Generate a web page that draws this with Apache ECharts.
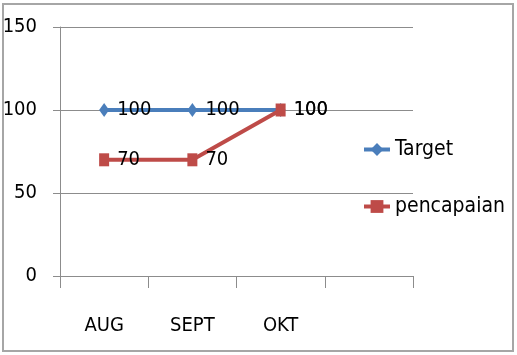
<!DOCTYPE html>
<html>
<head>
<meta charset="utf-8">
<script src="https://cdn.jsdelivr.net/npm/echarts@6/dist/echarts.min.js"></script>
<style>
  html, body { margin: 0; padding: 0; background: #fff; }
  #chart { width: 517px; height: 355px; }
</style>
</head>
<body>
<div id="chart"></div>
<script>
// months on the x axis (4th slot is empty in the original)
const months = ["AUG", "SEPT", "OKT", ""];
const target = [100, 100, 100];
const pencapaian = [70, 70, 100];

const FONT = "'DejaVu Sans Condensed', 'Liberation Sans Narrow', sans-serif";
const AXIS_GRAY = "#8c8c8c";
const FS = 20;

const chart = echarts.init(document.getElementById("chart"));

const option = {
  animation: false,
  textStyle: { fontFamily: FONT },
  graphic: [{
    type: "rect",
    shape: { x: 3, y: 4, width: 510, height: 347 },
    style: { fill: "none", stroke: "#a6a6a6", lineWidth: 2 },
    silent: true
  }],
  grid: { left: 60, right: 104, top: 27, bottom: 79, containLabel: false, outerBoundsMode: "none" },
  legend: {
    orient: "vertical",
    left: 357,
    top: 134,
    itemGap: 36,
    itemWidth: 26,
    itemHeight: 16,
    lineStyle: { width: 4 },
    textStyle: { fontSize: 21, color: "#000", fontFamily: FONT },
    data: ["Target", "pencapaian"]
  },
  xAxis: {
    type: "category",
    data: months,
    boundaryGap: true,
    axisLine: { lineStyle: { color: AXIS_GRAY, width: 1 } },
    axisTick: { show: true, length: 12, interval: 0, lineStyle: { color: AXIS_GRAY } },
    axisLabel: { margin: 40, fontSize: FS, color: "#000", fontFamily: FONT, interval: 0 },
    splitLine: { show: false }
  },
  yAxis: {
    type: "value",
    min: 0,
    max: 150,
    interval: 50,
    axisLine: { show: true, lineStyle: { color: AXIS_GRAY, width: 1 } },
    axisTick: { show: true, length: 7, lineStyle: { color: AXIS_GRAY } },
    axisLabel: { margin: 23, fontSize: FS, color: "#000", fontFamily: FONT },
    splitLine: { show: true, lineStyle: { color: AXIS_GRAY, width: 1 } }
  },
  series: [
    {
      name: "Target",
      type: "line",
      data: target,
      color: "#4a7ebb",
      lineStyle: { width: 4 },
      symbol: "diamond",
      symbolSize: [10, 14],
      label: { show: true, position: "right", distance: 8, fontSize: FS, color: "#000", fontFamily: FONT }
    },
    {
      name: "pencapaian",
      type: "line",
      data: pencapaian,
      color: "#be4b48",
      lineStyle: { width: 4 },
      symbol: "rect",
      symbolSize: [10, 13],
      label: { show: true, position: "right", distance: 8, fontSize: FS, color: "#000", fontFamily: FONT }
    }
  ]
};

chart.setOption(option);
</script>
</body>
</html>
